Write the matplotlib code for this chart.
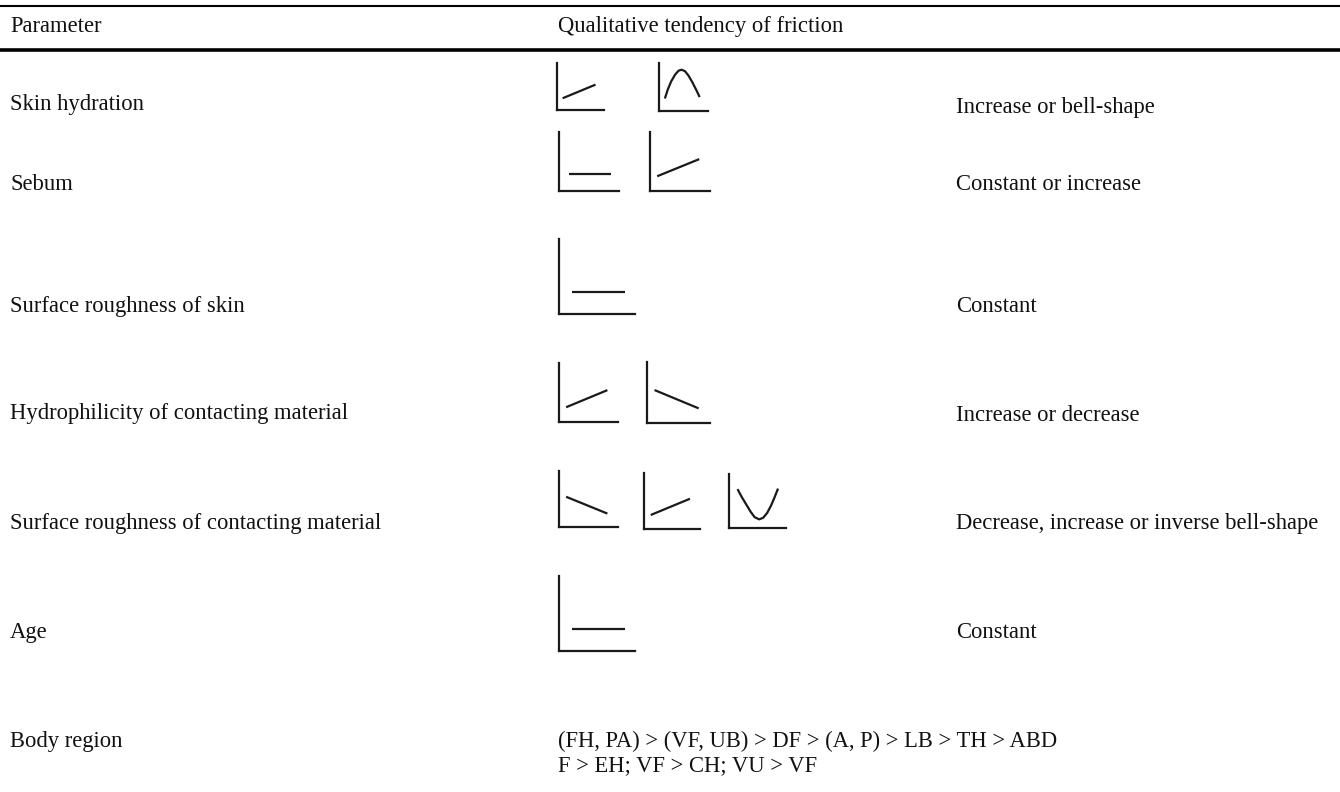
import matplotlib
matplotlib.use("Agg")
import matplotlib.pyplot as plt

plt.rcParams['font.family'] = ['Liberation Serif', 'DejaVu Serif']

# ---------------- data ----------------
header_left = "Parameter"
header_right = "Qualitative tendency of friction"

parameters = [
    "Skin hydration",
    "Sebum",
    "Surface roughness of skin",
    "Hydrophilicity of contacting material",
    "Surface roughness of contacting material",
    "Age",
    "Body region",
]

tendencies = [
    "Increase or bell-shape",
    "Constant or increase",
    "Constant",
    "Increase or decrease",
    "Decrease, increase or inverse bell-shape",
    "Constant",
    "",
]

icon_shapes = [
    ["increase", "bell"],
    ["constant", "increase"],
    ["constant"],
    ["increase", "decrease"],
    ["decrease", "increase", "inverse_bell"],
    ["constant"],
    [],
]

body_region_order = [
    "(FH, PA) > (VF, UB) > DF > (A, P) > LB > TH > ABD",
    "F > EH; VF > CH; VU > VF",
]

# icon curves (normalised icon coordinates)
increase_x = [0.12, 0.82]
increase_y = [0.25, 0.54]
decrease_x = [0.12, 0.82]
decrease_y = [0.54, 0.24]
constant_x = [0.17, 0.87]
constant_y = [0.29, 0.29]
bell_x = [0.12, 0.18, 0.25, 0.33, 0.40, 0.46, 0.53, 0.60, 0.68, 0.76, 0.83]
bell_y = [0.26, 0.45, 0.62, 0.76, 0.84, 0.86, 0.83, 0.74, 0.60, 0.44, 0.29]
inv_bell_x = [0.15, 0.22, 0.30, 0.38, 0.45, 0.53, 0.60, 0.67, 0.74, 0.80, 0.86]
inv_bell_y = [0.72, 0.58, 0.44, 0.30, 0.20, 0.16, 0.19, 0.28, 0.42, 0.57, 0.73]

shapes = {
    "increase": (increase_x, increase_y),
    "decrease": (decrease_x, decrease_y),
    "constant": (constant_x, constant_y),
    "bell": (bell_x, bell_y),
    "inverse_bell": (inv_bell_x, inv_bell_y),
}

# ---------------- layout (pixels) ----------------
W, H = 1340, 792
row_baselines = [110, 190, 312, 419, 529, 638, 747]
right_baselines = [113, 190, 312, 421, 529, 638]
body_baselines = [747, 771]
icon_boxes = [
    [(557, 63, 604, 110), (659, 63, 708, 111)],
    [(559, 132, 619, 191), (650, 132, 710, 191)],
    [(559, 239, 635, 314)],
    [(559, 363, 618, 422), (647, 362, 710, 423)],
    [(559, 471, 618, 527), (644, 473, 700, 529), (729, 474, 786, 528)],
    [(559, 576, 635, 651)],
    [],
]
FS = 16.3
TXT = '#111111'
INK = '#1a1a1a'

fig = plt.figure(figsize=(W / 100, H / 100), dpi=100)
ax0 = fig.add_axes([0, 0, 1, 1])
ax0.set_xlim(0, W)
ax0.set_ylim(H, 0)
ax0.axis('off')

# rules
ax0.axhline(6, color='black', lw=1.5)
ax0.axhline(50, color='black', lw=2.6)

# header
ax0.text(10, 32, header_left, fontsize=FS, color=TXT, va='baseline', ha='left')
ax0.text(558, 32, header_right, fontsize=FS, color=TXT, va='baseline', ha='left')

# rows
for i, p in enumerate(parameters):
    ax0.text(10, row_baselines[i], p, fontsize=FS, color=TXT, va='baseline', ha='left')
for i, t in enumerate(tendencies):
    if t:
        ax0.text(956, right_baselines[i], t, fontsize=FS, color=TXT, va='baseline', ha='left')
for i, line in enumerate(body_region_order):
    ax0.text(558, body_baselines[i], line, fontsize=FS, color=TXT, va='baseline', ha='left')

# icons
for shapes_row, boxes in zip(icon_shapes, icon_boxes):
    for shp, (l, t, r, b) in zip(shapes_row, boxes):
        ax = fig.add_axes([l / W, 1 - b / H, (r - l) / W, (b - t) / H])
        ax.set_xlim(0, 1)
        ax.set_ylim(0, 1)
        ax.patch.set_visible(False)
        for s in ('top', 'right'):
            ax.spines[s].set_visible(False)
        for s in ('left', 'bottom'):
            ax.spines[s].set_linewidth(1.6)
            ax.spines[s].set_color(INK)
        ax.set_xticks([])
        ax.set_yticks([])
        xs, ys = shapes[shp]
        ax.plot(xs, ys, color=INK, lw=1.6, solid_capstyle='butt')

fig.savefig('out.png', dpi=100)
